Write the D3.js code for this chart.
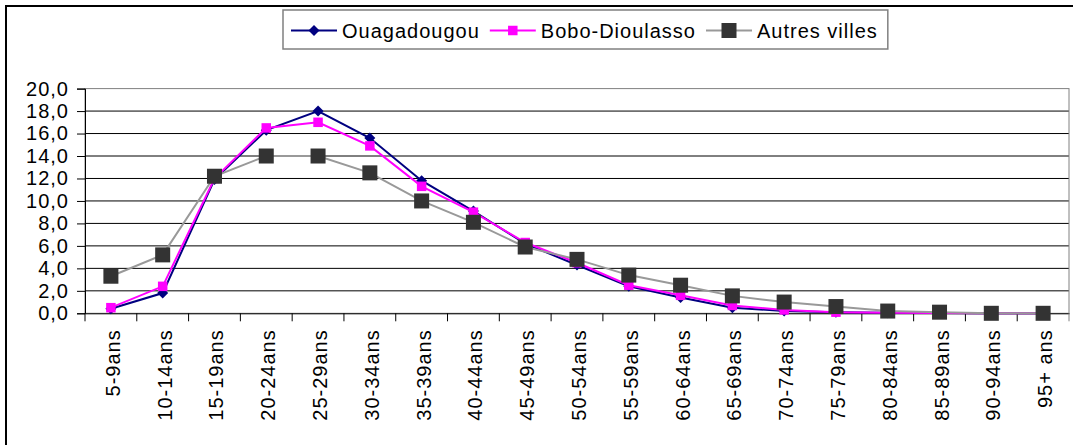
<!DOCTYPE html>
<html><head><meta charset="utf-8">
<script src="https://cdn.jsdelivr.net/npm/d3@7"></script>
<style>
html,body{margin:0;padding:0;background:#fff;}
svg{display:block;}
text{font-family:"Liberation Sans",Arial,sans-serif;}
</style></head>
<body>
<svg id="c" width="1073" height="445"></svg>
<script>
const categories = ["5-9ans","10-14ans","15-19ans","20-24ans","25-29ans","30-34ans","35-39ans","40-44ans","45-49ans","50-54ans","55-59ans","60-64ans","65-69ans","70-74ans","75-79ans","80-84ans","85-89ans","90-94ans","95+ ans"];
const ouagadougou = [0.4,1.8,11.9,16.3,18.0,15.6,11.8,9.1,6.2,4.3,2.4,1.4,0.5,0.2,0.1,0.05,0.03,0.01,0.01];
const boboDioulasso = [0.5,2.4,12.0,16.5,17.0,14.9,11.3,9.0,6.3,4.5,2.5,1.6,0.7,0.3,0.1,0.05,0.03,0.01,0.01];
const autresVilles = [3.3,5.2,12.2,14.0,14.0,12.5,10.0,8.1,5.9,4.8,3.4,2.5,1.55,1.0,0.6,0.2,0.1,0.0,0.0];
const seriesNames = ["Ouagadougou","Bobo-Dioulasso","Autres villes"];
const yTicks = [0,2,4,6,8,10,12,14,16,18,20];

const series = [
  {name: seriesNames[0], values: ouagadougou, line:"#000080", fill:"#000080", marker:"diamond", size:11},
  {name: seriesNames[1], values: boboDioulasso, line:"#FF00FF", fill:"#FF00FF", marker:"square", size:9.5},
  {name: seriesNames[2], values: autresVilles, line:"#999999", fill:"#333333", marker:"square", size:15}
];

const svg = d3.select("#c");
const FS = 20, LS = 1.0;

// outer frame (cut off at right and bottom)
svg.append("rect").attr("x",6).attr("y",6).attr("width",1200).attr("height",600)
  .attr("fill","none").attr("stroke","#000").attr("stroke-width",2);

const L = 85, R = 1069, T = 88.6, B = 313.3;
const x = d3.scaleBand().domain(categories).range([L,R]).padding(0);
const y = d3.scaleLinear().domain([0,20]).range([B,T]);

// gridlines
svg.append("g").selectAll("line").data(yTicks.filter(d=>d>0&&d<20)).join("line")
  .attr("x1",L).attr("x2",R).attr("y1",d=>y(d)).attr("y2",d=>y(d))
  .attr("stroke","#000").attr("stroke-width",1);

// plot area border
svg.append("rect").attr("x",L).attr("y",T).attr("width",R-L).attr("height",B-T)
  .attr("fill","none").attr("stroke","#808080").attr("stroke-width",1);

// y axis
const yAxis = d3.axisLeft(y).tickValues(yTicks).tickSize(8).tickPadding(8)
  .tickFormat(d=>d3.format(".1f")(d).replace(".",","));
const gy = svg.append("g").attr("transform",`translate(${L},0)`).call(yAxis);
gy.select(".domain").attr("stroke","#000");
gy.selectAll(".tick line").attr("stroke","#000");
gy.selectAll("text").attr("font-size",FS).attr("fill","#000")
  .style("letter-spacing",LS+"px").attr("x",-16).attr("font-family","Liberation Sans, Arial, sans-serif");

// x axis
const xAxis = d3.axisBottom(x).tickSize(0).tickFormat(d=>d);
const gx = svg.append("g").attr("transform",`translate(0,${B})`).call(xAxis);
gx.select(".domain").attr("stroke","#000");
gx.selectAll("text").attr("font-size",FS).attr("fill","#000")
  .style("letter-spacing",LS+"px").attr("font-family","Liberation Sans, Arial, sans-serif")
  .attr("text-anchor","end").attr("transform","rotate(-90)")
  .attr("x",-16).attr("y",2).attr("dy","0.35em");
// tick marks at category boundaries
const bounds = categories.map(c=>x(c)).concat([R]);
svg.append("g").selectAll("line").data(bounds).join("line")
  .attr("x1",d=>d).attr("x2",d=>d).attr("y1",B).attr("y2",B+8)
  .attr("stroke",(d,i)=>i===bounds.length-1?"#808080":"#000").attr("stroke-width",1);

const cx = c => x(c) + x.bandwidth()/2;
function drawMarker(g, type, size, fill, px, py){
  if(type==="diamond"){
    const h=size/2;
    g.append("path").attr("d",`M${px},${py-h}L${px+h},${py}L${px},${py+h}L${px-h},${py}Z`).attr("fill",fill);
  } else {
    g.append("rect").attr("x",px-size/2).attr("y",py-size/2).attr("width",size).attr("height",size).attr("fill",fill);
  }
}

const line = d3.line().x((d,i)=>cx(categories[i])).y(d=>y(d));
series.forEach(s=>{
  const g = svg.append("g");
  g.append("path").attr("d",line(s.values)).attr("fill","none").attr("stroke",s.line).attr("stroke-width",2);
  s.values.forEach((v,i)=>drawMarker(g,s.marker,s.size,s.fill,cx(categories[i]),y(v)));
});

// legend
const lg = svg.append("g");
const box = lg.append("rect").attr("x",283).attr("y",10).attr("height",39).attr("fill","#fff")
  .attr("stroke","#808080").attr("stroke-width",1.5);
let lx = 291; const ly = 30.5;
series.forEach(s=>{
  lg.append("line").attr("x1",lx).attr("x2",lx+46).attr("y1",ly).attr("y2",ly).attr("stroke",s.line).attr("stroke-width",2);
  drawMarker(lg,s.marker,s.size,s.fill,lx+23,ly);
  const t = lg.append("text").attr("x",lx+51).attr("y",ly).attr("dy","0.35em")
    .attr("font-size",FS).style("letter-spacing",LS+"px").attr("fill","#000").text(s.name);
  const w = t.node().getComputedTextLength();
  lx = lx + 51 + w + 10;
});
box.attr("width", lx - 283);
</script>
</body></html>
